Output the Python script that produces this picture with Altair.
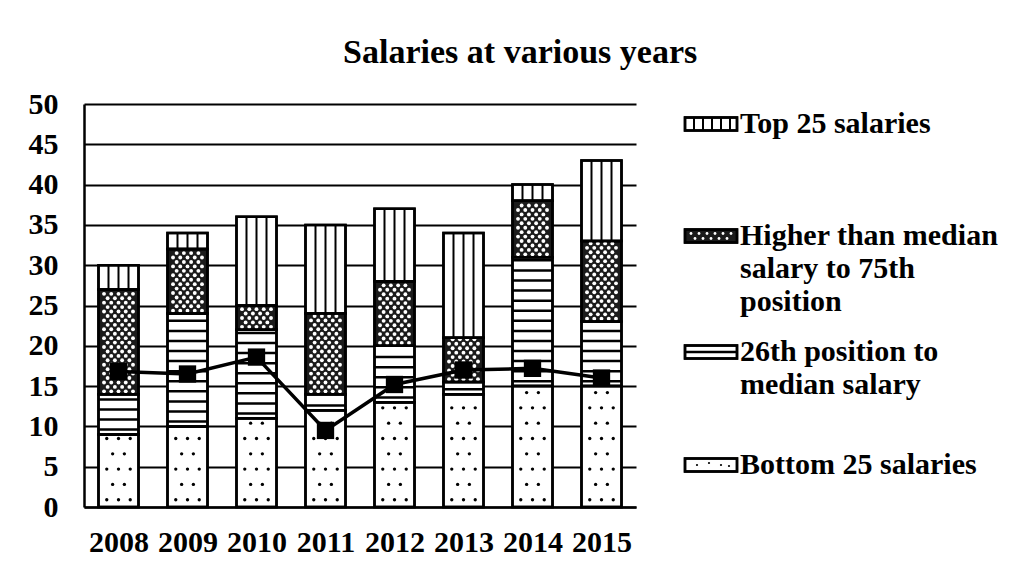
import altair as alt
import pandas as pd
import numpy as np

# ---------------- data ----------------
years = [2008, 2009, 2010, 2011, 2012, 2013, 2014, 2015]
bottom25 = [9, 10, 11, 12, 13, 14, 15, 15]
pos26_to_median = [5, 14, 11, 2, 7, 1.5, 16, 8]
median_to_75th = [13, 8, 3, 10, 8, 5.5, 7, 10]
top25 = [3, 2, 11, 11, 9, 13, 2, 10]
line_values = [16.8, 16.5, 18.6, 9.5, 15.2, 17.0, 17.2, 16.0]

series_names = [
    "Bottom 25 salaries",
    "26th position to median salary",
    "Higher than median salary to 75th position",
    "Top 25 salaries",
]
y_ticks = [0, 5, 10, 15, 20, 25, 30, 35, 40, 45, 50]
title_text = "Salaries at various years"
legend_lines = [
    ["Top 25 salaries"],
    ["Higher than median", "salary to 75th", "position"],
    ["26th position to", "median salary"],
    ["Bottom 25 salaries"],
]

FONT = "Liberation Serif"
FS = 30
HALF = 0.29  # half bar width in year units

# ---------------- tables ----------------
seg_rows = []
for i, yr in enumerate(years):
    base = 0.0
    for name, vals in zip(series_names, [bottom25, pos26_to_median, median_to_75th, top25]):
        seg_rows.append({"year": yr, "x0": yr - HALF, "x1": yr + HALF,
                         "series": name, "start": base, "end": base + vals[i]})
        base += vals[i]
seg = pd.DataFrame(seg_rows)

# pattern decorations derived from the segments
dots, stripes, holes, vlines = [], [], [], []
for r in seg_rows:
    s, e, yr = r["start"], r["end"], r["year"]
    if r["series"] == series_names[0]:
        for k, yy in enumerate(np.arange(s + 0.9, e - 0.4, 1.9)):
            offs = [-0.17, 0.0, 0.17] if k % 2 == 0 else [-0.085, 0.085]
            for dx in offs:
                dots.append({"x": yr + dx, "y": yy})
    elif r["series"] == series_names[1]:
        for yy in np.arange(s + 0.6, e - 0.2, 1.25):
            stripes.append({"x0": yr - HALF, "x1": yr + HALF, "y": yy})
    elif r["series"] == series_names[2]:
        for k, yy in enumerate(np.arange(s + 0.35, e - 0.2, 0.55)):
            offs = [-0.21, -0.105, 0.0, 0.105, 0.21] if k % 2 == 0 else [-0.1575, -0.0525, 0.0525, 0.1575]
            for dx in offs:
                holes.append({"x": yr + dx, "y": yy})
    else:
        for dx in [-0.145, 0.0, 0.145]:
            vlines.append({"x": yr + dx, "y0": s, "y1": e})

line_df = pd.DataFrame({"year": years, "value": line_values})

xscale = alt.Scale(domain=[2007.5, 2015.5], nice=False, zero=False)
yscale = alt.Scale(domain=[0, 50], nice=False)

W, H = 552, 403

xaxis = alt.Axis(values=years, format="d", title=None, grid=False, ticks=False,
                 domainColor="black", domainWidth=2.5, labelFont=FONT,
                 labelFontSize=FS, labelFontWeight="bold", labelColor="black",
                 labelPadding=20)
yaxis = alt.Axis(values=y_ticks, title=None, grid=True, gridColor="black",
                 gridWidth=2, gridOpacity=1, ticks=False, domainColor="black",
                 domainWidth=2.5, labelFont=FONT, labelFontSize=FS,
                 labelFontWeight="bold", labelColor="black", labelPadding=26)

bars_fill = alt.Chart(seg).mark_bar(stroke="black", strokeWidth=2.5).encode(
    x=alt.X("x0:Q", scale=xscale, axis=xaxis),
    x2="x1:Q",
    y=alt.Y("start:Q", scale=yscale, axis=yaxis),
    y2="end:Q",
    color=alt.Color("series:N", scale=alt.Scale(domain=series_names,
                    range=["white", "white", "#1b1b1b", "white"]), legend=None),
)

dots_l = alt.Chart(pd.DataFrame(dots)).mark_point(filled=True, color="black",
                                                   size=11, opacity=1).encode(
    x=alt.X("x:Q", scale=xscale), y=alt.Y("y:Q", scale=yscale))
stripes_l = alt.Chart(pd.DataFrame(stripes)).mark_rule(color="black",
                                                       strokeWidth=2.5).encode(
    x=alt.X("x0:Q", scale=xscale), x2="x1:Q", y=alt.Y("y:Q", scale=yscale))
holes_l = alt.Chart(pd.DataFrame(holes)).mark_point(filled=True, color="white",
                                                    size=15, opacity=1).encode(
    x=alt.X("x:Q", scale=xscale), y=alt.Y("y:Q", scale=yscale))
vlines_l = alt.Chart(pd.DataFrame(vlines)).mark_rule(color="black",
                                                     strokeWidth=2).encode(
    x=alt.X("x:Q", scale=xscale), y=alt.Y("y0:Q", scale=yscale), y2="y1:Q")

bars_outline = alt.Chart(seg).mark_bar(fillOpacity=0, stroke="black",
                                       strokeWidth=2.5).encode(
    x=alt.X("x0:Q", scale=xscale), x2="x1:Q",
    y=alt.Y("start:Q", scale=yscale), y2="end:Q")

line_l = alt.Chart(line_df).mark_line(color="black", strokeWidth=3.5).encode(
    x=alt.X("year:Q", scale=xscale), y=alt.Y("value:Q", scale=yscale))
marks_l = alt.Chart(line_df).mark_point(shape="square", filled=True,
                                        color="black", size=300, opacity=1).encode(
    x=alt.X("year:Q", scale=xscale), y=alt.Y("value:Q", scale=yscale))

main = alt.layer(bars_fill, dots_l, stripes_l, holes_l, vlines_l, bars_outline,
                 line_l, marks_l).properties(width=W, height=H)

# ---------------- hand-drawn legend panel ----------------
item_y = [20, 132, 248, 361]          # pixel centre of first line of each item
line_gap = 33
SW = 52                              # swatch width
SH = 13                              # swatch height
txt_rows = []
for it, lines in enumerate(legend_lines):
    for k, t in enumerate(lines):
        txt_rows.append({"t": t, "px": SW + 3, "py": item_y[it] + k * line_gap})
txt_df = pd.DataFrame(txt_rows)

sw_df = pd.DataFrame({"x0": [0] * 4, "x1": [SW] * 4,
                      "y0": [y - SH / 2 for y in item_y],
                      "y1": [y + SH / 2 for y in item_y],
                      "fill": ["white", "#1b1b1b", "white", "white"]})

lg_v = pd.DataFrame({"x": [9, 18, 27, 36, 45],
                     "y0": [item_y[0] - SH / 2] * 5, "y1": [item_y[0] + SH / 2] * 5})
lg_h = pd.DataFrame({"x0": [0], "x1": [SW], "y": [item_y[2]]})
lg_holes = pd.DataFrame({"x": [6, 14, 22, 30, 38, 46, 10, 18, 26, 34, 42],
                         "y": [item_y[1] - 2.5] * 6 + [item_y[1] + 2.5] * 5})
lg_dots = pd.DataFrame({"x": [12, 24, 36, 44], "y": [item_y[3], item_y[3] - 2, item_y[3], item_y[3] + 1]})

pxs = alt.Scale(domain=[0, 300], range=[0, 300])
pys = alt.Scale(domain=[0, H], range=[0, H])


def PX(f):
    return alt.X(f, scale=pxs, axis=None)


def PY(f):
    return alt.Y(f, scale=pys, axis=None)


lg_sw = alt.Chart(sw_df).mark_rect(stroke="black", strokeWidth=2.5).encode(
    x=PX("x0:Q"), x2="x1:Q", y=PY("y0:Q"), y2="y1:Q",
    fill=alt.Fill("fill:N", scale=None))
lg_vl = alt.Chart(lg_v).mark_rule(color="black", strokeWidth=2).encode(
    x=PX("x:Q"), y=PY("y0:Q"), y2="y1:Q")
lg_hl = alt.Chart(lg_h).mark_rule(color="black", strokeWidth=2.5).encode(
    x=PX("x0:Q"), x2="x1:Q", y=PY("y:Q"))
lg_ho = alt.Chart(lg_holes).mark_point(filled=True, color="white", size=8,
                                       opacity=1).encode(x=PX("x:Q"), y=PY("y:Q"))
lg_do = alt.Chart(lg_dots).mark_point(filled=True, color="black", size=5,
                                      opacity=1).encode(x=PX("x:Q"), y=PY("y:Q"))
lg_sw2 = alt.Chart(sw_df).mark_rect(fillOpacity=0, stroke="black",
                                    strokeWidth=2.5).encode(
    x=PX("x0:Q"), x2="x1:Q", y=PY("y0:Q"), y2="y1:Q")
lg_tx = alt.Chart(txt_df).mark_text(align="left", baseline="middle", font=FONT,
                                    fontSize=FS, fontWeight="bold",
                                    color="black").encode(
    x=PX("px:Q"), y=PY("py:Q"), text="t:N")

legend_panel = alt.layer(lg_sw, lg_vl, lg_hl, lg_ho, lg_do, lg_sw2, lg_tx).properties(
    width=300, height=H)

chart = alt.hconcat(main, legend_panel, spacing=46).properties(
    title=alt.TitleParams(title_text, font=FONT, fontSize=34, fontWeight="bold",
                          anchor="middle", color="black", offset=19, dx=7),
    padding={"left": 19, "top": 27, "right": 5, "bottom": 5},
    background="white",
).configure_view(stroke="transparent")

chart.save("out.html", embed_options={"renderer": "svg", "actions": False})
